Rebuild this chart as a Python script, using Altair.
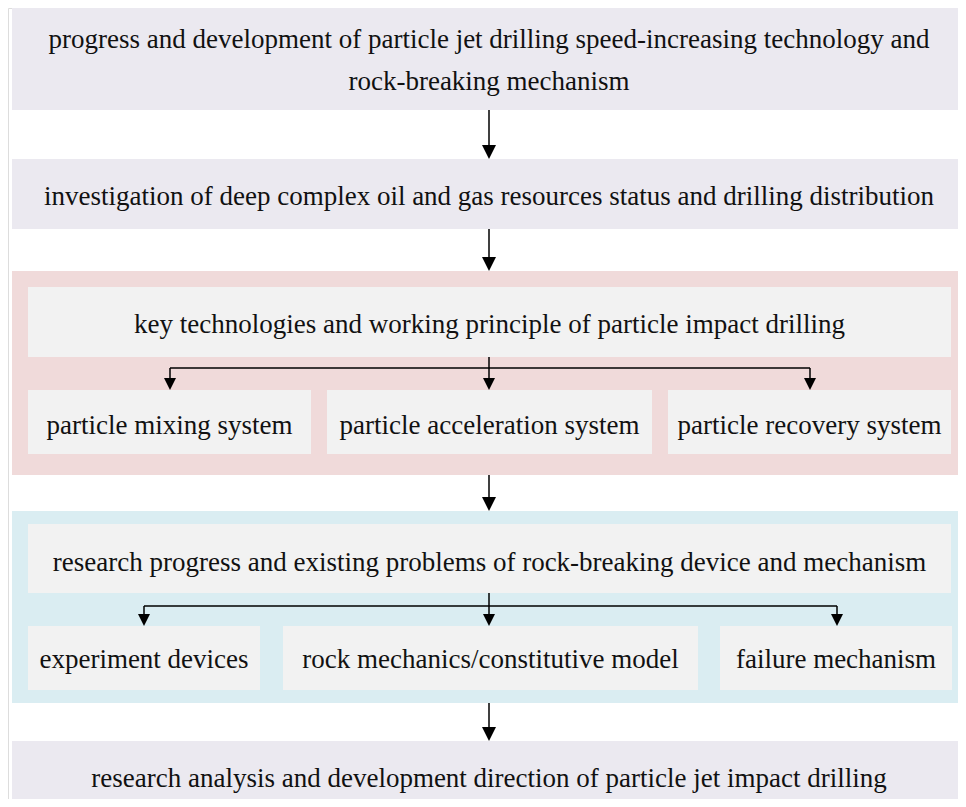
import altair as alt
import pandas as pd

# ---- boxes (pixel coordinates of the flowchart) ----
box_x0 = [12, 12, 12, 28, 28, 327, 668, 12, 28, 28, 283, 720, 12]
box_x1 = [966, 966, 966, 951, 311, 652, 951, 966, 951, 260, 698, 952, 966]
box_y0 = [8, 159, 271, 287, 390, 390, 390, 511, 524, 626, 626, 626, 741]
box_y1 = [110, 229, 475, 357, 454, 454, 454, 703, 593, 690, 690, 690, 807]
box_fill = ["#ebe9f0", "#ebe9f0", "#f0dada", "#f2f2f2", "#f2f2f2", "#f2f2f2",
            "#f2f2f2", "#daedf2", "#f2f2f2", "#f2f2f2", "#f2f2f2", "#f2f2f2",
            "#ebe9f0"]

# ---- labels ----
labels = [
    "progress and development of particle jet drilling speed-increasing technology and",
    "rock-breaking mechanism",
    "investigation of deep complex oil and gas resources status and drilling distribution",
    "key technologies and working principle of particle impact drilling",
    "particle mixing system",
    "particle acceleration system",
    "particle recovery system",
    "research progress and existing problems of rock-breaking device and mechanism",
    "experiment devices",
    "rock mechanics/constitutive model",
    "failure mechanism",
    "research analysis and development direction of particle jet impact drilling",
]
label_x = [489, 489, 489, 489.5, 169.5, 489.5, 809.5, 489.5, 144, 490.5, 836, 489]
label_y = [48, 90, 205, 333, 434, 434, 434, 571, 668, 668, 668, 787]

# ---- connector lines ----
line_x0 = [489, 489, 489, 489, 489, 170, 170, 489, 810, 489, 489, 144, 144, 489, 837]
line_x1 = [489, 489, 489, 489, 489, 810, 170, 489, 810, 489, 489, 837, 144, 489, 837]
line_y0 = [110, 229, 475, 703, 357, 368, 368, 368, 368, 593, 606, 606, 606, 606, 606]
line_y1 = [146, 258, 498, 728, 368, 368, 378, 378, 378, 606, 606, 606, 615, 615, 615]

# ---- arrow heads (tip positions) ----
head_x = [489, 489, 489, 489, 170, 489, 810, 144, 489, 837]
head_y = [159, 271, 511, 741, 390, 390, 390, 626, 626, 626]
head_big = [1, 1, 1, 1, 0, 0, 0, 0, 0, 0]

W, H = 950, 791
X0, Y0 = 8, 8
xs = alt.Scale(domain=[X0, X0 + W], nice=False, zero=False)
ys = alt.Scale(domain=[Y0, Y0 + H], nice=False, zero=False, reverse=True)

boxes = pd.DataFrame({"x0": box_x0, "x1": [min(v, X0 + W) for v in box_x1],
                      "y0": box_y0, "y1": [min(v, Y0 + H) for v in box_y1],
                      "fill": box_fill})
texts = pd.DataFrame({"t": labels, "x": label_x, "y": label_y})
lines = pd.DataFrame({"x0": line_x0, "x1": line_x1, "y0": line_y0, "y1": line_y1})
heads = pd.DataFrame({"x": head_x, "y": head_y, "big": head_big})
big = heads[heads.big == 1].copy()
small = heads[heads.big == 0].copy()
big["yc"] = big["y"] - 7
small["yc"] = small["y"] - 6

rects = alt.Chart(boxes).mark_rect(strokeWidth=0).encode(
    x=alt.X("x0:Q", scale=xs, axis=None),
    x2="x1:Q",
    y=alt.Y("y0:Q", scale=ys, axis=None),
    y2="y1:Q",
    color=alt.Color("fill:N", scale=None),
)

rules = alt.Chart(lines).mark_rule(color="black", strokeWidth=1.5).encode(
    x=alt.X("x0:Q", scale=xs, axis=None),
    x2="x1:Q",
    y=alt.Y("y0:Q", scale=ys, axis=None),
    y2="y1:Q",
)

tri = "M-1,-1L1,-1L0,1Z"
big_heads = alt.Chart(big).mark_point(
    shape=tri, filled=True, color="black", opacity=1, size=196, strokeWidth=0
).encode(
    x=alt.X("x:Q", scale=xs, axis=None),
    y=alt.Y("yc:Q", scale=ys, axis=None),
)
small_heads = alt.Chart(small).mark_point(
    shape=tri, filled=True, color="black", opacity=1, size=144, strokeWidth=0
).encode(
    x=alt.X("x:Q", scale=xs, axis=None),
    y=alt.Y("yc:Q", scale=ys, axis=None),
)

txt = alt.Chart(texts).mark_text(
    font="Liberation Serif, DejaVu Serif, Noto Serif, serif",
    fontSize=27, color="#111111",
    align="center", baseline="alphabetic"
).encode(
    x=alt.X("x:Q", scale=xs, axis=None),
    y=alt.Y("y:Q", scale=ys, axis=None),
    text="t:N",
)

chart = alt.layer(rects, rules, big_heads, small_heads, txt).properties(
    width=W, height=H, padding=0, autosize=alt.AutoSizeParams(type="none")
).configure_view(stroke=None).configure(background="white")

chart.save("out.html", embed_options={"renderer": "svg", "actions": False})
